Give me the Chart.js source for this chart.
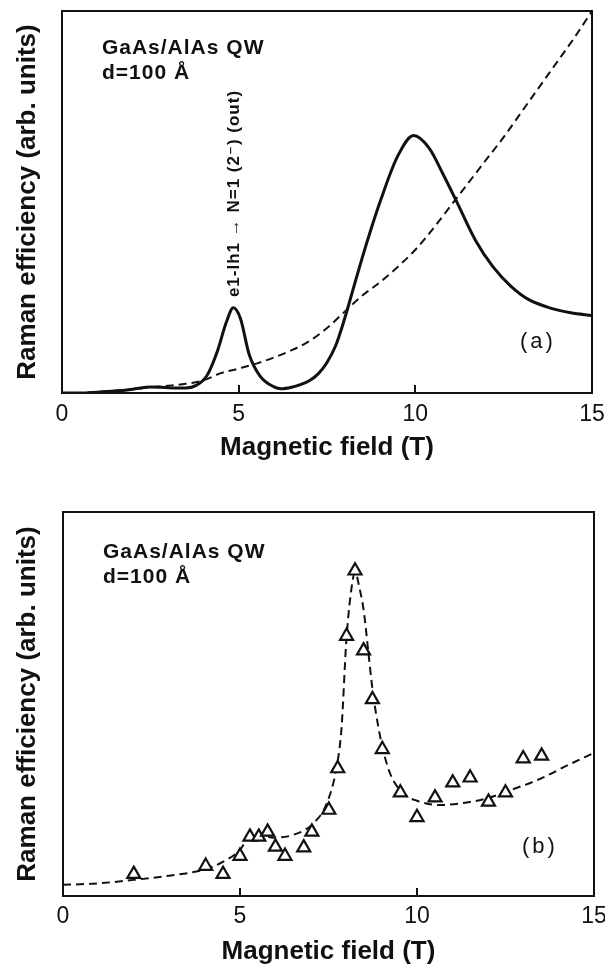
<!DOCTYPE html>
<html>
<head>
<meta charset="utf-8">
<script src="https://cdn.jsdelivr.net/npm/chart.js@4.4.1/dist/chart.umd.min.js"></script>
<style>
  html, body { margin: 0; padding: 0; background: #fff; }
  #wrap { position: relative; width: 605px; height: 967px; }
  #panelA { position: absolute; left: 0; top: 0; }
  #panelB { position: absolute; left: 0; top: 480px; }
</style>
</head>
<body>
<div id="wrap">
  <canvas id="panelA" width="605" height="480"></canvas>
  <canvas id="panelB" width="605" height="487"></canvas>
</div>
<script>
// ---- data ----
const xTicks = [0, 5, 10, 15];

// (a) solid curve
const fieldA = [0, 0.5, 1.0, 1.5, 2.0, 2.5, 3.0, 3.5, 3.8, 4.1, 4.4, 4.65, 4.85, 5.05, 5.3, 5.6, 6.0, 6.2, 6.5, 6.75, 7.0, 7.25, 7.5, 7.75, 8.0, 8.25, 8.5, 8.75, 9.0, 9.5, 9.95, 10.4, 10.8, 11.2, 11.7, 12.2, 12.7, 13.2, 13.8, 14.4, 15];
const effA = [0, 0, 0.2, 0.5, 1.0, 1.6, 1.4, 1.3, 2.0, 4.5, 11, 18.5, 22.3, 19.5, 10, 4.5, 1.6, 1.1, 1.5, 2.2, 3.2, 5.0, 8.0, 12.5, 19.5, 27.5, 35.5, 43, 50, 62, 67.4, 64, 57, 49.5, 40, 33, 28, 24.5, 22.3, 21, 20.3];

// (a) dashed curve
const fieldADash = [0, 0.5, 1.0, 1.5, 2.0, 2.5, 3.0, 3.5, 4.0, 4.5, 5.0, 5.5, 6.0, 6.5, 7.0, 7.5, 8.0, 8.5, 9.0, 9.5, 10.0, 10.5, 11.0, 11.5, 12.0, 12.5, 13.0, 13.5, 14.0, 14.5, 15];
const effADash = [0, 0, 0.3, 0.6, 1.0, 1.5, 1.9, 2.4, 3.3, 5.2, 6.4, 7.7, 9.3, 11.2, 13.6, 17, 21.3, 25.5, 29, 33, 37.5, 43, 49, 55, 61, 67, 73.5, 80, 86.5, 93, 100];

// (b) triangles
const fieldB = [2.0, 4.03, 4.52, 5.0, 5.28, 5.53, 5.78, 6.0, 6.27, 6.8, 7.03, 7.51, 7.76, 8.01, 8.25, 8.49, 8.74, 9.02, 9.53, 10.0, 10.51, 11.01, 11.5, 12.02, 12.5, 13.0, 13.52];
const effB = [5.7, 7.8, 5.7, 10.4, 15.4, 15.4, 16.7, 12.8, 10.4, 12.6, 16.7, 22.4, 33.2, 67.7, 84.7, 63.9, 51.2, 38.2, 26.9, 20.5, 25.6, 29.5, 30.8, 24.5, 26.9, 35.8, 36.5];

// (b) dashed fit
const fieldBFit = [0, 1, 2, 3, 4, 4.5, 5.0, 5.33, 5.6, 5.94, 6.5, 7.07, 7.45, 7.73, 7.87, 8.0, 8.12, 8.25, 8.38, 8.5, 8.62, 8.74, 8.96, 9.24, 9.67, 10.0, 10.65, 11.3, 12.0, 12.5, 13.5, 14.2, 15];
const effBFit = [2.9, 3.3, 4.2, 5.3, 6.9, 8.8, 12.0, 16.3, 16.0, 15.2, 15.9, 18.9, 24.1, 33.6, 44, 66, 78, 84.3, 80, 74, 64, 54, 41.5, 31.9, 26.3, 24.8, 23.7, 24.2, 25.5, 27.1, 30.6, 33.8, 37.3];

const pts = (xs, ys) => xs.map((x, i) => ({ x, y: ys[i] }));

Chart.defaults.font.family = '"Liberation Sans", Arial, sans-serif';
Chart.defaults.color = '#111';

// box around the plot area, with short inward tick marks on the x axis
const frame = {
    id: 'frame',
    afterDatasetsDraw(chart) {
        const { ctx, chartArea: a, scales } = chart;
        ctx.save();
        ctx.strokeStyle = '#111';
        ctx.lineWidth = 2;
        ctx.strokeRect(a.left, a.top, a.right - a.left, a.bottom - a.top);
        ctx.beginPath();
        scales.x.ticks.forEach(t => {
            const px = Math.round(scales.x.getPixelForValue(t.value));
            ctx.moveTo(px, a.bottom);
            ctx.lineTo(px, a.bottom - 8);
        });
        ctx.stroke();
        ctx.restore();
    }
};

// text labels placed in data coordinates
function notes(items) {
    return {
        id: 'notes',
        afterDraw(chart) {
            const { ctx, scales } = chart;
            items.forEach(n => {
                ctx.save();
                ctx.font = n.font;
                ctx.fillStyle = '#111';
                ctx.letterSpacing = n.spacing || '0px';
                ctx.textAlign = n.align || 'left';
                ctx.textBaseline = 'middle';
                ctx.translate(scales.x.getPixelForValue(n.x), scales.y.getPixelForValue(n.y));
                if (n.rotate) ctx.rotate(n.rotate);
                ctx.fillText(n.text, 0, 0);
                ctx.restore();
            });
        }
    };
}

function makeOptions(yWidth, xHeight, pad, titlePad, tickPad) {
    return {
        responsive: false,
        animation: false,
        layout: { padding: pad },
        plugins: { legend: { display: false }, tooltip: { enabled: false } },
        scales: {
            x: {
                type: 'linear',
                min: 0,
                max: 15,
                afterBuildTicks: s => { s.ticks = xTicks.map(v => ({ value: v })); },
                afterFit: s => { s.height = xHeight; s.paddingLeft = 0; s.paddingRight = 0; },
                grid: { display: false, drawTicks: false },
                border: { display: false },
                ticks: { padding: tickPad, font: { size: 23 }, color: '#111', maxRotation: 0 },
                title: { display: true, text: 'Magnetic field (T)', font: { size: 26, weight: 'bold' }, padding: { top: 0, bottom: titlePad }, color: '#111' }
            },
            y: {
                min: 0,
                max: 100,
                afterFit: s => { s.width = yWidth; },
                grid: { display: false },
                border: { display: false },
                ticks: { display: false },
                title: { display: true, text: 'Raman efficiency (arb. units)', font: { size: 26, weight: 'bold' }, padding: { top: 12, bottom: 0 }, color: '#111' }
            }
        }
    };
}

new Chart(document.getElementById('panelA'), {
    type: 'line',
    data: {
        datasets: [
            {
                data: pts(fieldA, effA),
                borderColor: '#111',
                borderWidth: 3,
                pointRadius: 0,
                cubicInterpolationMode: 'monotone'
            },
            {
                data: pts(fieldADash, effADash),
                borderColor: '#111',
                borderWidth: 2,
                borderDash: [8, 5],
                pointRadius: 0,
                cubicInterpolationMode: 'monotone'
            }
        ]
    },
    options: makeOptions(62, 87, { top: 11, right: 13, left: 0, bottom: 0 }, 17, 8),
    plugins: [frame, notes([
        { text: 'GaAs/AlAs QW', x: 1.13, y: 90.3, font: 'bold 21px "Liberation Sans", Arial, sans-serif', spacing: '1px' },
        { text: 'd=100 Å', x: 1.13, y: 83.8, font: 'bold 21px "Liberation Sans", Arial, sans-serif', spacing: '1px' },
        { text: '(a)', x: 13.47, y: 13.4, font: '22px "Liberation Sans", Arial, sans-serif', spacing: '3px', align: 'center' },
        { text: 'e1-lh1 → N=1 (2⁻) (out)', x: 4.87, y: 25.1, font: 'bold 17px "Liberation Sans", "DejaVu Sans", sans-serif', spacing: '1px', rotate: -Math.PI / 2 }
    ])]
});

new Chart(document.getElementById('panelB'), {
    type: 'line',
    data: {
        datasets: [
            {
                data: pts(fieldB, effB),
                showLine: false,
                pointStyle: 'triangle',
                pointRadius: 7.5,
                pointBorderWidth: 2.2,
                pointBorderColor: '#111',
                pointBackgroundColor: '#fff',
                order: 0
            },
            {
                data: pts(fieldBFit, effBFit),
                borderColor: '#111',
                borderWidth: 2,
                borderDash: [8, 5],
                pointRadius: 0,
                cubicInterpolationMode: 'monotone',
                order: 1
            }
        ]
    },
    options: makeOptions(63, 71, { top: 32, right: 11, left: 0, bottom: 0 }, 0, 7),
    plugins: [frame, notes([
        { text: 'GaAs/AlAs QW', x: 1.13, y: 89.6, font: 'bold 21px "Liberation Sans", Arial, sans-serif', spacing: '1px' },
        { text: 'd=100 Å', x: 1.13, y: 83.1, font: 'bold 21px "Liberation Sans", Arial, sans-serif', spacing: '1px' },
        { text: '(b)', x: 13.47, y: 12.8, font: '22px "Liberation Sans", Arial, sans-serif', spacing: '3px', align: 'center' }
    ])]
});
</script>
</body>
</html>
